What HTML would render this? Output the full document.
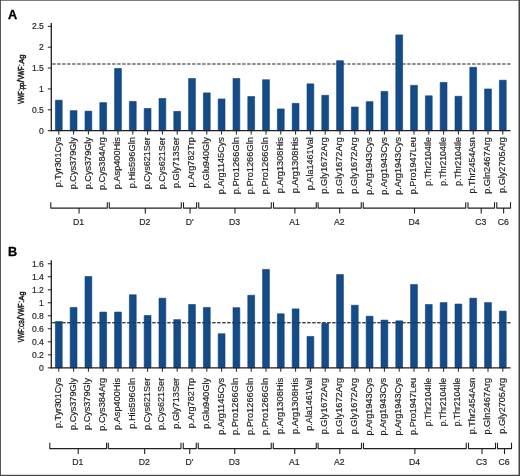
<!DOCTYPE html>
<html><head><meta charset="utf-8"><title>Figure</title>
<style>
html,body{margin:0;padding:0;background:#fff;}
body{width:520px;height:476px;overflow:hidden;}
svg{display:block;will-change:transform;stroke-linejoin:round;font-family:"Liberation Sans",sans-serif;fill:#231f20;}
text{stroke:#231f20;stroke-width:0.18px;}
</style></head><body>
<svg width="520" height="476" viewBox="0 0 520 476">
<rect x="0" y="0" width="520" height="476" fill="#fff"/>
<line x1="52.20" y1="64.0" x2="510.6" y2="64.0" stroke="#1a1a1a" stroke-width="1.1" stroke-dasharray="3.4 1.6"/>
<rect x="55.40" y="100.19" width="6.80" height="30.51" fill="#144c8a" stroke="#0f3d74" stroke-width="0.6"/>
<rect x="70.20" y="110.66" width="6.80" height="20.04" fill="#144c8a" stroke="#0f3d74" stroke-width="0.6"/>
<rect x="85.00" y="111.15" width="6.80" height="19.55" fill="#144c8a" stroke="#0f3d74" stroke-width="0.6"/>
<rect x="99.80" y="102.62" width="6.80" height="28.08" fill="#144c8a" stroke="#0f3d74" stroke-width="0.6"/>
<rect x="114.60" y="68.52" width="6.80" height="62.18" fill="#144c8a" stroke="#0f3d74" stroke-width="0.6"/>
<rect x="129.40" y="101.41" width="6.80" height="29.29" fill="#144c8a" stroke="#0f3d74" stroke-width="0.6"/>
<rect x="144.20" y="108.47" width="6.80" height="22.23" fill="#144c8a" stroke="#0f3d74" stroke-width="0.6"/>
<rect x="159.00" y="98.48" width="6.80" height="32.22" fill="#144c8a" stroke="#0f3d74" stroke-width="0.6"/>
<rect x="173.80" y="111.39" width="6.80" height="19.31" fill="#144c8a" stroke="#0f3d74" stroke-width="0.6"/>
<rect x="188.60" y="78.51" width="6.80" height="52.19" fill="#144c8a" stroke="#0f3d74" stroke-width="0.6"/>
<rect x="203.40" y="92.88" width="6.80" height="37.82" fill="#144c8a" stroke="#0f3d74" stroke-width="0.6"/>
<rect x="218.20" y="98.97" width="6.80" height="31.73" fill="#144c8a" stroke="#0f3d74" stroke-width="0.6"/>
<rect x="233.00" y="78.51" width="6.80" height="52.19" fill="#144c8a" stroke="#0f3d74" stroke-width="0.6"/>
<rect x="247.80" y="96.53" width="6.80" height="34.17" fill="#144c8a" stroke="#0f3d74" stroke-width="0.6"/>
<rect x="262.60" y="79.73" width="6.80" height="50.97" fill="#144c8a" stroke="#0f3d74" stroke-width="0.6"/>
<rect x="277.40" y="108.96" width="6.80" height="21.74" fill="#144c8a" stroke="#0f3d74" stroke-width="0.6"/>
<rect x="292.20" y="103.35" width="6.80" height="27.35" fill="#144c8a" stroke="#0f3d74" stroke-width="0.6"/>
<rect x="307.00" y="83.87" width="6.80" height="46.83" fill="#144c8a" stroke="#0f3d74" stroke-width="0.6"/>
<rect x="321.80" y="95.32" width="6.80" height="35.38" fill="#144c8a" stroke="#0f3d74" stroke-width="0.6"/>
<rect x="336.60" y="60.73" width="6.80" height="69.97" fill="#144c8a" stroke="#0f3d74" stroke-width="0.6"/>
<rect x="351.40" y="107.01" width="6.80" height="23.69" fill="#144c8a" stroke="#0f3d74" stroke-width="0.6"/>
<rect x="366.20" y="101.65" width="6.80" height="29.05" fill="#144c8a" stroke="#0f3d74" stroke-width="0.6"/>
<rect x="381.00" y="91.42" width="6.80" height="39.28" fill="#144c8a" stroke="#0f3d74" stroke-width="0.6"/>
<rect x="395.80" y="34.91" width="6.80" height="95.79" fill="#144c8a" stroke="#0f3d74" stroke-width="0.6"/>
<rect x="410.60" y="85.33" width="6.80" height="45.37" fill="#144c8a" stroke="#0f3d74" stroke-width="0.6"/>
<rect x="425.40" y="95.80" width="6.80" height="34.90" fill="#144c8a" stroke="#0f3d74" stroke-width="0.6"/>
<rect x="440.20" y="82.41" width="6.80" height="48.29" fill="#144c8a" stroke="#0f3d74" stroke-width="0.6"/>
<rect x="455.00" y="96.29" width="6.80" height="34.41" fill="#144c8a" stroke="#0f3d74" stroke-width="0.6"/>
<rect x="469.80" y="67.31" width="6.80" height="63.39" fill="#144c8a" stroke="#0f3d74" stroke-width="0.6"/>
<rect x="484.60" y="88.98" width="6.80" height="41.72" fill="#144c8a" stroke="#0f3d74" stroke-width="0.6"/>
<rect x="499.40" y="80.22" width="6.80" height="50.48" fill="#144c8a" stroke="#0f3d74" stroke-width="0.6"/>
<line x1="51.3" y1="22.9" x2="51.3" y2="131.29999999999998" stroke="#231f20" stroke-width="1.3"/>
<line x1="50.8" y1="130.7" x2="510.6" y2="130.7" stroke="#231f20" stroke-width="1.25"/>
<line x1="47.8" y1="130.70" x2="51.3" y2="130.70" stroke="#231f20" stroke-width="1"/>
<text x="43.9" y="133.85" font-size="8.6" text-anchor="end">0</text>
<line x1="47.8" y1="109.82" x2="51.3" y2="109.82" stroke="#231f20" stroke-width="1"/>
<text x="43.9" y="112.97" font-size="8.6" text-anchor="end">0.5</text>
<line x1="47.8" y1="88.94" x2="51.3" y2="88.94" stroke="#231f20" stroke-width="1"/>
<text x="43.9" y="92.09" font-size="8.6" text-anchor="end">1</text>
<line x1="47.8" y1="68.06" x2="51.3" y2="68.06" stroke="#231f20" stroke-width="1"/>
<text x="43.9" y="71.21" font-size="8.6" text-anchor="end">1.5</text>
<line x1="47.8" y1="47.18" x2="51.3" y2="47.18" stroke="#231f20" stroke-width="1"/>
<text x="43.9" y="50.33" font-size="8.6" text-anchor="end">2</text>
<line x1="47.8" y1="26.30" x2="51.3" y2="26.30" stroke="#231f20" stroke-width="1"/>
<text x="43.9" y="29.45" font-size="8.6" text-anchor="end">2.5</text>
<line x1="58.80" y1="130.7" x2="58.80" y2="134.6" stroke="#231f20" stroke-width="1"/>
<text transform="translate(61.00,187.25) rotate(-90)" font-size="8.2" textLength="50.10" lengthAdjust="spacingAndGlyphs">p.Tyr301Cys</text>
<line x1="73.60" y1="130.7" x2="73.60" y2="134.6" stroke="#231f20" stroke-width="1"/>
<text transform="translate(75.80,189.25) rotate(-90)" font-size="8.2" textLength="52.10" lengthAdjust="spacingAndGlyphs">p.Cys379Gly</text>
<line x1="88.40" y1="130.7" x2="88.40" y2="134.6" stroke="#231f20" stroke-width="1"/>
<text transform="translate(90.60,189.25) rotate(-90)" font-size="8.2" textLength="52.10" lengthAdjust="spacingAndGlyphs">p.Cys379Gly</text>
<line x1="103.20" y1="130.7" x2="103.20" y2="134.6" stroke="#231f20" stroke-width="1"/>
<text transform="translate(105.40,190.05) rotate(-90)" font-size="8.2" textLength="52.90" lengthAdjust="spacingAndGlyphs">p.Cys384Arg</text>
<line x1="118.00" y1="130.7" x2="118.00" y2="134.6" stroke="#231f20" stroke-width="1"/>
<text transform="translate(120.20,189.25) rotate(-90)" font-size="8.2" textLength="52.10" lengthAdjust="spacingAndGlyphs">p.Asp400His</text>
<line x1="132.80" y1="130.7" x2="132.80" y2="134.6" stroke="#231f20" stroke-width="1"/>
<text transform="translate(135.00,188.15) rotate(-90)" font-size="8.2" textLength="51.00" lengthAdjust="spacingAndGlyphs">p.His596Gln</text>
<line x1="147.60" y1="130.7" x2="147.60" y2="134.6" stroke="#231f20" stroke-width="1"/>
<text transform="translate(149.80,189.25) rotate(-90)" font-size="8.2" textLength="52.10" lengthAdjust="spacingAndGlyphs">p.Cys621Ser</text>
<line x1="162.40" y1="130.7" x2="162.40" y2="134.6" stroke="#231f20" stroke-width="1"/>
<text transform="translate(164.60,189.25) rotate(-90)" font-size="8.2" textLength="52.10" lengthAdjust="spacingAndGlyphs">p.Cys621Ser</text>
<line x1="177.20" y1="130.7" x2="177.20" y2="134.6" stroke="#231f20" stroke-width="1"/>
<text transform="translate(179.40,188.05) rotate(-90)" font-size="8.2" textLength="50.90" lengthAdjust="spacingAndGlyphs">p.Gly713Ser</text>
<line x1="192.00" y1="130.7" x2="192.00" y2="134.6" stroke="#231f20" stroke-width="1"/>
<text transform="translate(194.20,187.45) rotate(-90)" font-size="8.2" textLength="50.30" lengthAdjust="spacingAndGlyphs">p.Arg782Trp</text>
<line x1="206.80" y1="130.7" x2="206.80" y2="134.6" stroke="#231f20" stroke-width="1"/>
<text transform="translate(209.00,188.15) rotate(-90)" font-size="8.2" textLength="51.00" lengthAdjust="spacingAndGlyphs">p.Glu940Gly</text>
<line x1="221.60" y1="130.7" x2="221.60" y2="134.6" stroke="#231f20" stroke-width="1"/>
<text transform="translate(223.80,194.15) rotate(-90)" font-size="8.2" textLength="57.00" lengthAdjust="spacingAndGlyphs">p.Arg1145Cys</text>
<line x1="236.40" y1="130.7" x2="236.40" y2="134.6" stroke="#231f20" stroke-width="1"/>
<text transform="translate(238.60,194.35) rotate(-90)" font-size="8.2" textLength="57.20" lengthAdjust="spacingAndGlyphs">p.Pro1266Gln</text>
<line x1="251.20" y1="130.7" x2="251.20" y2="134.6" stroke="#231f20" stroke-width="1"/>
<text transform="translate(253.40,194.35) rotate(-90)" font-size="8.2" textLength="57.20" lengthAdjust="spacingAndGlyphs">p.Pro1266Gln</text>
<line x1="266.00" y1="130.7" x2="266.00" y2="134.6" stroke="#231f20" stroke-width="1"/>
<text transform="translate(268.20,194.25) rotate(-90)" font-size="8.2" textLength="57.10" lengthAdjust="spacingAndGlyphs">p.Pro1266Gln</text>
<line x1="280.80" y1="130.7" x2="280.80" y2="134.6" stroke="#231f20" stroke-width="1"/>
<text transform="translate(283.00,193.25) rotate(-90)" font-size="8.2" textLength="56.10" lengthAdjust="spacingAndGlyphs">p.Arg1308His</text>
<line x1="295.60" y1="130.7" x2="295.60" y2="134.6" stroke="#231f20" stroke-width="1"/>
<text transform="translate(297.80,193.25) rotate(-90)" font-size="8.2" textLength="56.10" lengthAdjust="spacingAndGlyphs">p.Arg1308His</text>
<line x1="310.40" y1="130.7" x2="310.40" y2="134.6" stroke="#231f20" stroke-width="1"/>
<text transform="translate(312.60,190.15) rotate(-90)" font-size="8.2" textLength="53.00" lengthAdjust="spacingAndGlyphs">p.Ala1461Val</text>
<line x1="325.20" y1="130.7" x2="325.20" y2="134.6" stroke="#231f20" stroke-width="1"/>
<text transform="translate(327.40,193.65) rotate(-90)" font-size="8.2" textLength="56.50" lengthAdjust="spacingAndGlyphs">p.Gly1672Arg</text>
<line x1="340.00" y1="130.7" x2="340.00" y2="134.6" stroke="#231f20" stroke-width="1"/>
<text transform="translate(342.20,193.65) rotate(-90)" font-size="8.2" textLength="56.50" lengthAdjust="spacingAndGlyphs">p.Gly1672Arg</text>
<line x1="354.80" y1="130.7" x2="354.80" y2="134.6" stroke="#231f20" stroke-width="1"/>
<text transform="translate(357.00,193.65) rotate(-90)" font-size="8.2" textLength="56.50" lengthAdjust="spacingAndGlyphs">p.Gly1672Arg</text>
<line x1="369.60" y1="130.7" x2="369.60" y2="134.6" stroke="#231f20" stroke-width="1"/>
<text transform="translate(371.80,194.85) rotate(-90)" font-size="8.2" textLength="57.70" lengthAdjust="spacingAndGlyphs">p.Arg1943Cys</text>
<line x1="384.40" y1="130.7" x2="384.40" y2="134.6" stroke="#231f20" stroke-width="1"/>
<text transform="translate(386.60,194.85) rotate(-90)" font-size="8.2" textLength="57.70" lengthAdjust="spacingAndGlyphs">p.Arg1943Cys</text>
<line x1="399.20" y1="130.7" x2="399.20" y2="134.6" stroke="#231f20" stroke-width="1"/>
<text transform="translate(401.40,194.85) rotate(-90)" font-size="8.2" textLength="57.70" lengthAdjust="spacingAndGlyphs">p.Arg1943Cys</text>
<line x1="414.00" y1="130.7" x2="414.00" y2="134.6" stroke="#231f20" stroke-width="1"/>
<text transform="translate(416.20,194.25) rotate(-90)" font-size="8.2" textLength="57.10" lengthAdjust="spacingAndGlyphs">p.Pro1947Leu</text>
<line x1="428.80" y1="130.7" x2="428.80" y2="134.6" stroke="#231f20" stroke-width="1"/>
<text transform="translate(431.00,185.65) rotate(-90)" font-size="8.2" textLength="48.50" lengthAdjust="spacingAndGlyphs">p.Thr2104Ile</text>
<line x1="443.60" y1="130.7" x2="443.60" y2="134.6" stroke="#231f20" stroke-width="1"/>
<text transform="translate(445.80,185.65) rotate(-90)" font-size="8.2" textLength="48.50" lengthAdjust="spacingAndGlyphs">p.Thr2104Ile</text>
<line x1="458.40" y1="130.7" x2="458.40" y2="134.6" stroke="#231f20" stroke-width="1"/>
<text transform="translate(460.60,185.65) rotate(-90)" font-size="8.2" textLength="48.50" lengthAdjust="spacingAndGlyphs">p.Thr2104Ile</text>
<line x1="473.20" y1="130.7" x2="473.20" y2="134.6" stroke="#231f20" stroke-width="1"/>
<text transform="translate(475.40,193.55) rotate(-90)" font-size="8.2" textLength="56.40" lengthAdjust="spacingAndGlyphs">p.Thr2454Asn</text>
<line x1="488.00" y1="130.7" x2="488.00" y2="134.6" stroke="#231f20" stroke-width="1"/>
<text transform="translate(490.20,193.85) rotate(-90)" font-size="8.2" textLength="56.70" lengthAdjust="spacingAndGlyphs">p.Gln2467Arg</text>
<line x1="502.80" y1="130.7" x2="502.80" y2="134.6" stroke="#231f20" stroke-width="1"/>
<text transform="translate(505.00,192.95) rotate(-90)" font-size="8.2" textLength="55.80" lengthAdjust="spacingAndGlyphs">p.Gly2705Arg</text>
<path d="M50.8,202.29999999999998V208.1H107.3V202.29999999999998M79.05,208.1V213.5" fill="none" stroke="#231f20" stroke-width="1.1"/>
<text x="78.65" y="225.2" font-size="8.7" text-anchor="middle">D1</text>
<path d="M109.3,202.29999999999998V208.1H181.3V202.29999999999998M145.30,208.1V213.5" fill="none" stroke="#231f20" stroke-width="1.1"/>
<text x="144.90" y="225.2" font-size="8.7" text-anchor="middle">D2</text>
<path d="M183.5,202.29999999999998V208.1H196.6V202.29999999999998M190.05,208.1V213.5" fill="none" stroke="#231f20" stroke-width="1.1"/>
<text x="189.65" y="225.2" font-size="8.7" text-anchor="middle">D&#39;</text>
<path d="M198.7,202.29999999999998V208.1H271.3V202.29999999999998M235.00,208.1V213.5" fill="none" stroke="#231f20" stroke-width="1.1"/>
<text x="234.60" y="225.2" font-size="8.7" text-anchor="middle">D3</text>
<path d="M273.5,202.29999999999998V208.1H316.25V202.29999999999998M294.88,208.1V213.5" fill="none" stroke="#231f20" stroke-width="1.1"/>
<text x="294.48" y="225.2" font-size="8.7" text-anchor="middle">A1</text>
<path d="M318.1,202.29999999999998V208.1H361.25V202.29999999999998M339.68,208.1V213.5" fill="none" stroke="#231f20" stroke-width="1.1"/>
<text x="339.28" y="225.2" font-size="8.7" text-anchor="middle">A2</text>
<path d="M363.25,202.29999999999998V208.1H465.75V202.29999999999998M414.50,208.1V213.5" fill="none" stroke="#231f20" stroke-width="1.1"/>
<text x="414.10" y="225.2" font-size="8.7" text-anchor="middle">D4</text>
<path d="M468,202.29999999999998V208.1H494.5V202.29999999999998M481.25,208.1V213.5" fill="none" stroke="#231f20" stroke-width="1.1"/>
<text x="480.85" y="225.2" font-size="8.7" text-anchor="middle">C3</text>
<path d="M496.75,202.29999999999998V208.1H510.5V202.29999999999998M503.62,208.1V213.5" fill="none" stroke="#231f20" stroke-width="1.1"/>
<text x="503.23" y="225.2" font-size="8.7" text-anchor="middle">C6</text>
<text transform="translate(24.2,104.10) rotate(-90)" font-size="9.2" textLength="13.0" lengthAdjust="spacingAndGlyphs" style="stroke-width:0.55px">VWF</text>
<text transform="translate(24.2,90.70) rotate(-90)" font-size="9.2" textLength="1.7" lengthAdjust="spacingAndGlyphs" style="stroke-width:0.55px">:</text>
<text transform="translate(24.2,88.90) rotate(-90)" font-size="6.9" textLength="5.9" lengthAdjust="spacingAndGlyphs" style="stroke-width:0.55px">pp</text>
<text transform="translate(24.2,82.50) rotate(-90)" font-size="9.2" textLength="2.6" lengthAdjust="spacingAndGlyphs" style="stroke-width:0.55px">/</text>
<text transform="translate(24.2,79.60) rotate(-90)" font-size="9.2" textLength="13.1" lengthAdjust="spacingAndGlyphs" style="stroke-width:0.55px">VWF</text>
<text transform="translate(24.2,65.90) rotate(-90)" font-size="9.2" textLength="1.7" lengthAdjust="spacingAndGlyphs" style="stroke-width:0.55px">:</text>
<text transform="translate(24.2,63.80) rotate(-90)" font-size="8.0" textLength="9.2" lengthAdjust="spacingAndGlyphs" style="stroke-width:0.55px">Ag</text>
<text x="7.9" y="18.8" font-size="12.7" font-weight="bold" fill="#000" style="stroke:#000;stroke-width:0.3px">A</text>
<line x1="52.20" y1="322.75" x2="510.6" y2="322.75" stroke="#1a1a1a" stroke-width="1.1" stroke-dasharray="3.4 1.6"/>
<rect x="55.40" y="321.57" width="6.80" height="46.28" fill="#144c8a" stroke="#0f3d74" stroke-width="0.6"/>
<rect x="70.20" y="307.45" width="6.80" height="60.40" fill="#144c8a" stroke="#0f3d74" stroke-width="0.6"/>
<rect x="85.00" y="276.52" width="6.80" height="91.33" fill="#144c8a" stroke="#0f3d74" stroke-width="0.6"/>
<rect x="99.80" y="312.08" width="6.80" height="55.77" fill="#144c8a" stroke="#0f3d74" stroke-width="0.6"/>
<rect x="114.60" y="312.08" width="6.80" height="55.77" fill="#144c8a" stroke="#0f3d74" stroke-width="0.6"/>
<rect x="129.40" y="294.78" width="6.80" height="73.07" fill="#144c8a" stroke="#0f3d74" stroke-width="0.6"/>
<rect x="144.20" y="315.49" width="6.80" height="52.36" fill="#144c8a" stroke="#0f3d74" stroke-width="0.6"/>
<rect x="159.00" y="298.19" width="6.80" height="69.66" fill="#144c8a" stroke="#0f3d74" stroke-width="0.6"/>
<rect x="173.80" y="319.63" width="6.80" height="48.22" fill="#144c8a" stroke="#0f3d74" stroke-width="0.6"/>
<rect x="188.60" y="304.52" width="6.80" height="63.33" fill="#144c8a" stroke="#0f3d74" stroke-width="0.6"/>
<rect x="203.40" y="307.45" width="6.80" height="60.40" fill="#144c8a" stroke="#0f3d74" stroke-width="0.6"/>
<rect x="218.20" y="333.75" width="6.80" height="34.10" fill="#144c8a" stroke="#0f3d74" stroke-width="0.6"/>
<rect x="233.00" y="307.69" width="6.80" height="60.16" fill="#144c8a" stroke="#0f3d74" stroke-width="0.6"/>
<rect x="247.80" y="295.27" width="6.80" height="72.58" fill="#144c8a" stroke="#0f3d74" stroke-width="0.6"/>
<rect x="262.60" y="269.45" width="6.80" height="98.40" fill="#144c8a" stroke="#0f3d74" stroke-width="0.6"/>
<rect x="277.40" y="313.78" width="6.80" height="54.07" fill="#144c8a" stroke="#0f3d74" stroke-width="0.6"/>
<rect x="292.20" y="308.91" width="6.80" height="58.94" fill="#144c8a" stroke="#0f3d74" stroke-width="0.6"/>
<rect x="307.00" y="336.43" width="6.80" height="31.42" fill="#144c8a" stroke="#0f3d74" stroke-width="0.6"/>
<rect x="321.80" y="323.28" width="6.80" height="44.57" fill="#144c8a" stroke="#0f3d74" stroke-width="0.6"/>
<rect x="336.60" y="274.57" width="6.80" height="93.28" fill="#144c8a" stroke="#0f3d74" stroke-width="0.6"/>
<rect x="351.40" y="305.26" width="6.80" height="62.59" fill="#144c8a" stroke="#0f3d74" stroke-width="0.6"/>
<rect x="366.20" y="316.22" width="6.80" height="51.63" fill="#144c8a" stroke="#0f3d74" stroke-width="0.6"/>
<rect x="381.00" y="320.11" width="6.80" height="47.74" fill="#144c8a" stroke="#0f3d74" stroke-width="0.6"/>
<rect x="395.80" y="320.84" width="6.80" height="47.01" fill="#144c8a" stroke="#0f3d74" stroke-width="0.6"/>
<rect x="410.60" y="284.55" width="6.80" height="83.30" fill="#144c8a" stroke="#0f3d74" stroke-width="0.6"/>
<rect x="425.40" y="304.52" width="6.80" height="63.33" fill="#144c8a" stroke="#0f3d74" stroke-width="0.6"/>
<rect x="440.20" y="302.58" width="6.80" height="65.27" fill="#144c8a" stroke="#0f3d74" stroke-width="0.6"/>
<rect x="455.00" y="304.04" width="6.80" height="63.81" fill="#144c8a" stroke="#0f3d74" stroke-width="0.6"/>
<rect x="469.80" y="298.19" width="6.80" height="69.66" fill="#144c8a" stroke="#0f3d74" stroke-width="0.6"/>
<rect x="484.60" y="302.58" width="6.80" height="65.27" fill="#144c8a" stroke="#0f3d74" stroke-width="0.6"/>
<rect x="499.40" y="311.10" width="6.80" height="56.75" fill="#144c8a" stroke="#0f3d74" stroke-width="0.6"/>
<line x1="52.20" y1="322.75" x2="510.6" y2="322.75" stroke="#1a1a1a" stroke-width="1.1" stroke-dasharray="3.4 1.6" opacity="0.45"/>
<line x1="51.3" y1="260.3" x2="51.3" y2="368.45000000000005" stroke="#231f20" stroke-width="1.3"/>
<line x1="50.8" y1="367.85" x2="510.6" y2="367.85" stroke="#231f20" stroke-width="1.25"/>
<line x1="47.8" y1="367.85" x2="51.3" y2="367.85" stroke="#231f20" stroke-width="1"/>
<text x="43.9" y="371.00" font-size="8.6" text-anchor="end">0</text>
<line x1="47.8" y1="354.84" x2="51.3" y2="354.84" stroke="#231f20" stroke-width="1"/>
<text x="43.9" y="357.99" font-size="8.6" text-anchor="end">0.2</text>
<line x1="47.8" y1="341.83" x2="51.3" y2="341.83" stroke="#231f20" stroke-width="1"/>
<text x="43.9" y="344.98" font-size="8.6" text-anchor="end">0.4</text>
<line x1="47.8" y1="328.81" x2="51.3" y2="328.81" stroke="#231f20" stroke-width="1"/>
<text x="43.9" y="331.96" font-size="8.6" text-anchor="end">0.6</text>
<line x1="47.8" y1="315.80" x2="51.3" y2="315.80" stroke="#231f20" stroke-width="1"/>
<text x="43.9" y="318.95" font-size="8.6" text-anchor="end">0.8</text>
<line x1="47.8" y1="302.79" x2="51.3" y2="302.79" stroke="#231f20" stroke-width="1"/>
<text x="43.9" y="305.94" font-size="8.6" text-anchor="end">1</text>
<line x1="47.8" y1="289.78" x2="51.3" y2="289.78" stroke="#231f20" stroke-width="1"/>
<text x="43.9" y="292.93" font-size="8.6" text-anchor="end">1.2</text>
<line x1="47.8" y1="276.77" x2="51.3" y2="276.77" stroke="#231f20" stroke-width="1"/>
<text x="43.9" y="279.92" font-size="8.6" text-anchor="end">1.4</text>
<line x1="47.8" y1="263.75" x2="51.3" y2="263.75" stroke="#231f20" stroke-width="1"/>
<text x="43.9" y="266.90" font-size="8.6" text-anchor="end">1.6</text>
<line x1="58.80" y1="367.85" x2="58.80" y2="371.75" stroke="#231f20" stroke-width="1"/>
<text transform="translate(60.70,427.95) rotate(-90)" font-size="8.2" textLength="50.10" lengthAdjust="spacingAndGlyphs">p.Tyr301Cys</text>
<line x1="73.60" y1="367.85" x2="73.60" y2="371.75" stroke="#231f20" stroke-width="1"/>
<text transform="translate(75.50,429.95) rotate(-90)" font-size="8.2" textLength="52.10" lengthAdjust="spacingAndGlyphs">p.Cys379Gly</text>
<line x1="88.40" y1="367.85" x2="88.40" y2="371.75" stroke="#231f20" stroke-width="1"/>
<text transform="translate(90.30,429.95) rotate(-90)" font-size="8.2" textLength="52.10" lengthAdjust="spacingAndGlyphs">p.Cys379Gly</text>
<line x1="103.20" y1="367.85" x2="103.20" y2="371.75" stroke="#231f20" stroke-width="1"/>
<text transform="translate(105.10,430.75) rotate(-90)" font-size="8.2" textLength="52.90" lengthAdjust="spacingAndGlyphs">p.Cys384Arg</text>
<line x1="118.00" y1="367.85" x2="118.00" y2="371.75" stroke="#231f20" stroke-width="1"/>
<text transform="translate(119.90,429.95) rotate(-90)" font-size="8.2" textLength="52.10" lengthAdjust="spacingAndGlyphs">p.Asp400His</text>
<line x1="132.80" y1="367.85" x2="132.80" y2="371.75" stroke="#231f20" stroke-width="1"/>
<text transform="translate(134.70,428.85) rotate(-90)" font-size="8.2" textLength="51.00" lengthAdjust="spacingAndGlyphs">p.His596Gln</text>
<line x1="147.60" y1="367.85" x2="147.60" y2="371.75" stroke="#231f20" stroke-width="1"/>
<text transform="translate(149.50,429.95) rotate(-90)" font-size="8.2" textLength="52.10" lengthAdjust="spacingAndGlyphs">p.Cys621Ser</text>
<line x1="162.40" y1="367.85" x2="162.40" y2="371.75" stroke="#231f20" stroke-width="1"/>
<text transform="translate(164.30,429.95) rotate(-90)" font-size="8.2" textLength="52.10" lengthAdjust="spacingAndGlyphs">p.Cys621Ser</text>
<line x1="177.20" y1="367.85" x2="177.20" y2="371.75" stroke="#231f20" stroke-width="1"/>
<text transform="translate(179.10,428.75) rotate(-90)" font-size="8.2" textLength="50.90" lengthAdjust="spacingAndGlyphs">p.Gly713Ser</text>
<line x1="192.00" y1="367.85" x2="192.00" y2="371.75" stroke="#231f20" stroke-width="1"/>
<text transform="translate(193.90,428.15) rotate(-90)" font-size="8.2" textLength="50.30" lengthAdjust="spacingAndGlyphs">p.Arg782Trp</text>
<line x1="206.80" y1="367.85" x2="206.80" y2="371.75" stroke="#231f20" stroke-width="1"/>
<text transform="translate(208.70,428.85) rotate(-90)" font-size="8.2" textLength="51.00" lengthAdjust="spacingAndGlyphs">p.Glu940Gly</text>
<line x1="221.60" y1="367.85" x2="221.60" y2="371.75" stroke="#231f20" stroke-width="1"/>
<text transform="translate(223.50,434.85) rotate(-90)" font-size="8.2" textLength="57.00" lengthAdjust="spacingAndGlyphs">p.Arg1145Cys</text>
<line x1="236.40" y1="367.85" x2="236.40" y2="371.75" stroke="#231f20" stroke-width="1"/>
<text transform="translate(238.30,435.05) rotate(-90)" font-size="8.2" textLength="57.20" lengthAdjust="spacingAndGlyphs">p.Pro1266Gln</text>
<line x1="251.20" y1="367.85" x2="251.20" y2="371.75" stroke="#231f20" stroke-width="1"/>
<text transform="translate(253.10,435.05) rotate(-90)" font-size="8.2" textLength="57.20" lengthAdjust="spacingAndGlyphs">p.Pro1266Gln</text>
<line x1="266.00" y1="367.85" x2="266.00" y2="371.75" stroke="#231f20" stroke-width="1"/>
<text transform="translate(267.90,434.95) rotate(-90)" font-size="8.2" textLength="57.10" lengthAdjust="spacingAndGlyphs">p.Pro1266Gln</text>
<line x1="280.80" y1="367.85" x2="280.80" y2="371.75" stroke="#231f20" stroke-width="1"/>
<text transform="translate(282.70,433.95) rotate(-90)" font-size="8.2" textLength="56.10" lengthAdjust="spacingAndGlyphs">p.Arg1308His</text>
<line x1="295.60" y1="367.85" x2="295.60" y2="371.75" stroke="#231f20" stroke-width="1"/>
<text transform="translate(297.50,433.95) rotate(-90)" font-size="8.2" textLength="56.10" lengthAdjust="spacingAndGlyphs">p.Arg1308His</text>
<line x1="310.40" y1="367.85" x2="310.40" y2="371.75" stroke="#231f20" stroke-width="1"/>
<text transform="translate(312.30,430.85) rotate(-90)" font-size="8.2" textLength="53.00" lengthAdjust="spacingAndGlyphs">p.Ala1461Val</text>
<line x1="325.20" y1="367.85" x2="325.20" y2="371.75" stroke="#231f20" stroke-width="1"/>
<text transform="translate(327.10,434.35) rotate(-90)" font-size="8.2" textLength="56.50" lengthAdjust="spacingAndGlyphs">p.Gly1672Arg</text>
<line x1="340.00" y1="367.85" x2="340.00" y2="371.75" stroke="#231f20" stroke-width="1"/>
<text transform="translate(341.90,434.35) rotate(-90)" font-size="8.2" textLength="56.50" lengthAdjust="spacingAndGlyphs">p.Gly1672Arg</text>
<line x1="354.80" y1="367.85" x2="354.80" y2="371.75" stroke="#231f20" stroke-width="1"/>
<text transform="translate(356.70,434.35) rotate(-90)" font-size="8.2" textLength="56.50" lengthAdjust="spacingAndGlyphs">p.Gly1672Arg</text>
<line x1="369.60" y1="367.85" x2="369.60" y2="371.75" stroke="#231f20" stroke-width="1"/>
<text transform="translate(371.50,435.55) rotate(-90)" font-size="8.2" textLength="57.70" lengthAdjust="spacingAndGlyphs">p.Arg1943Cys</text>
<line x1="384.40" y1="367.85" x2="384.40" y2="371.75" stroke="#231f20" stroke-width="1"/>
<text transform="translate(386.30,435.55) rotate(-90)" font-size="8.2" textLength="57.70" lengthAdjust="spacingAndGlyphs">p.Arg1943Cys</text>
<line x1="399.20" y1="367.85" x2="399.20" y2="371.75" stroke="#231f20" stroke-width="1"/>
<text transform="translate(401.10,435.55) rotate(-90)" font-size="8.2" textLength="57.70" lengthAdjust="spacingAndGlyphs">p.Arg1943Cys</text>
<line x1="414.00" y1="367.85" x2="414.00" y2="371.75" stroke="#231f20" stroke-width="1"/>
<text transform="translate(415.90,434.95) rotate(-90)" font-size="8.2" textLength="57.10" lengthAdjust="spacingAndGlyphs">p.Pro1947Leu</text>
<line x1="428.80" y1="367.85" x2="428.80" y2="371.75" stroke="#231f20" stroke-width="1"/>
<text transform="translate(430.70,426.35) rotate(-90)" font-size="8.2" textLength="48.50" lengthAdjust="spacingAndGlyphs">p.Thr2104Ile</text>
<line x1="443.60" y1="367.85" x2="443.60" y2="371.75" stroke="#231f20" stroke-width="1"/>
<text transform="translate(445.50,426.35) rotate(-90)" font-size="8.2" textLength="48.50" lengthAdjust="spacingAndGlyphs">p.Thr2104Ile</text>
<line x1="458.40" y1="367.85" x2="458.40" y2="371.75" stroke="#231f20" stroke-width="1"/>
<text transform="translate(460.30,426.35) rotate(-90)" font-size="8.2" textLength="48.50" lengthAdjust="spacingAndGlyphs">p.Thr2104Ile</text>
<line x1="473.20" y1="367.85" x2="473.20" y2="371.75" stroke="#231f20" stroke-width="1"/>
<text transform="translate(475.10,434.25) rotate(-90)" font-size="8.2" textLength="56.40" lengthAdjust="spacingAndGlyphs">p.Thr2454Asn</text>
<line x1="488.00" y1="367.85" x2="488.00" y2="371.75" stroke="#231f20" stroke-width="1"/>
<text transform="translate(489.90,434.55) rotate(-90)" font-size="8.2" textLength="56.70" lengthAdjust="spacingAndGlyphs">p.Gln2467Arg</text>
<line x1="502.80" y1="367.85" x2="502.80" y2="371.75" stroke="#231f20" stroke-width="1"/>
<text transform="translate(504.70,433.65) rotate(-90)" font-size="8.2" textLength="55.80" lengthAdjust="spacingAndGlyphs">p.Gly2705Arg</text>
<path d="M49.8,442.8V448.6H106.6V442.8M78.20,448.6V454.0" fill="none" stroke="#231f20" stroke-width="1.1"/>
<text x="77.80" y="465.3" font-size="8.7" text-anchor="middle">D1</text>
<path d="M108.3,442.8V448.6H181.0V442.8M144.65,448.6V454.0" fill="none" stroke="#231f20" stroke-width="1.1"/>
<text x="144.25" y="465.3" font-size="8.7" text-anchor="middle">D2</text>
<path d="M183.25,442.8V448.6H196.25V442.8M189.75,448.6V454.0" fill="none" stroke="#231f20" stroke-width="1.1"/>
<text x="189.35" y="465.3" font-size="8.7" text-anchor="middle">D&#39;</text>
<path d="M198.25,442.8V448.6H271.25V442.8M234.75,448.6V454.0" fill="none" stroke="#231f20" stroke-width="1.1"/>
<text x="234.35" y="465.3" font-size="8.7" text-anchor="middle">D3</text>
<path d="M273.25,442.8V448.6H316.25V442.8M294.75,448.6V454.0" fill="none" stroke="#231f20" stroke-width="1.1"/>
<text x="294.35" y="465.3" font-size="8.7" text-anchor="middle">A1</text>
<path d="M318.1,442.8V448.6H361.5V442.8M339.80,448.6V454.0" fill="none" stroke="#231f20" stroke-width="1.1"/>
<text x="339.40" y="465.3" font-size="8.7" text-anchor="middle">A2</text>
<path d="M363.5,442.8V448.6H466.25V442.8M414.88,448.6V454.0" fill="none" stroke="#231f20" stroke-width="1.1"/>
<text x="414.48" y="465.3" font-size="8.7" text-anchor="middle">D4</text>
<path d="M468.5,442.8V448.6H495.5V442.8M482.00,448.6V454.0" fill="none" stroke="#231f20" stroke-width="1.1"/>
<text x="481.60" y="465.3" font-size="8.7" text-anchor="middle">C3</text>
<path d="M497.5,442.8V448.6H511.5V442.8M504.50,448.6V454.0" fill="none" stroke="#231f20" stroke-width="1.1"/>
<text x="504.10" y="465.3" font-size="8.7" text-anchor="middle">C6</text>
<text transform="translate(24.2,342.20) rotate(-90)" font-size="9.2" textLength="12.9" lengthAdjust="spacingAndGlyphs" style="stroke-width:0.55px">VWF</text>
<text transform="translate(24.2,328.90) rotate(-90)" font-size="9.2" textLength="1.7" lengthAdjust="spacingAndGlyphs" style="stroke-width:0.55px">:</text>
<text transform="translate(24.2,327.00) rotate(-90)" font-size="8.0" textLength="6.9" lengthAdjust="spacingAndGlyphs" style="stroke-width:0.55px">CB</text>
<text transform="translate(24.2,319.70) rotate(-90)" font-size="9.2" textLength="2.6" lengthAdjust="spacingAndGlyphs" style="stroke-width:0.55px">/</text>
<text transform="translate(24.2,316.40) rotate(-90)" font-size="9.2" textLength="13.1" lengthAdjust="spacingAndGlyphs" style="stroke-width:0.55px">VWF</text>
<text transform="translate(24.2,302.65) rotate(-90)" font-size="9.2" textLength="1.7" lengthAdjust="spacingAndGlyphs" style="stroke-width:0.55px">:</text>
<text transform="translate(24.2,300.50) rotate(-90)" font-size="8.0" textLength="9.0" lengthAdjust="spacingAndGlyphs" style="stroke-width:0.55px">Ag</text>
<text x="7.9" y="256.2" font-size="12.7" font-weight="bold" fill="#000" style="stroke:#000;stroke-width:0.3px">B</text>
<rect x="0" y="0" width="520" height="0.7" fill="#444"/>
<rect x="0" y="0" width="0.9" height="476" fill="#444"/>
<rect x="518.5" y="0" width="1.5" height="476" fill="#444"/>
<rect x="0" y="474.8" width="520" height="1.2" fill="#444"/>
</svg>
</body></html>
